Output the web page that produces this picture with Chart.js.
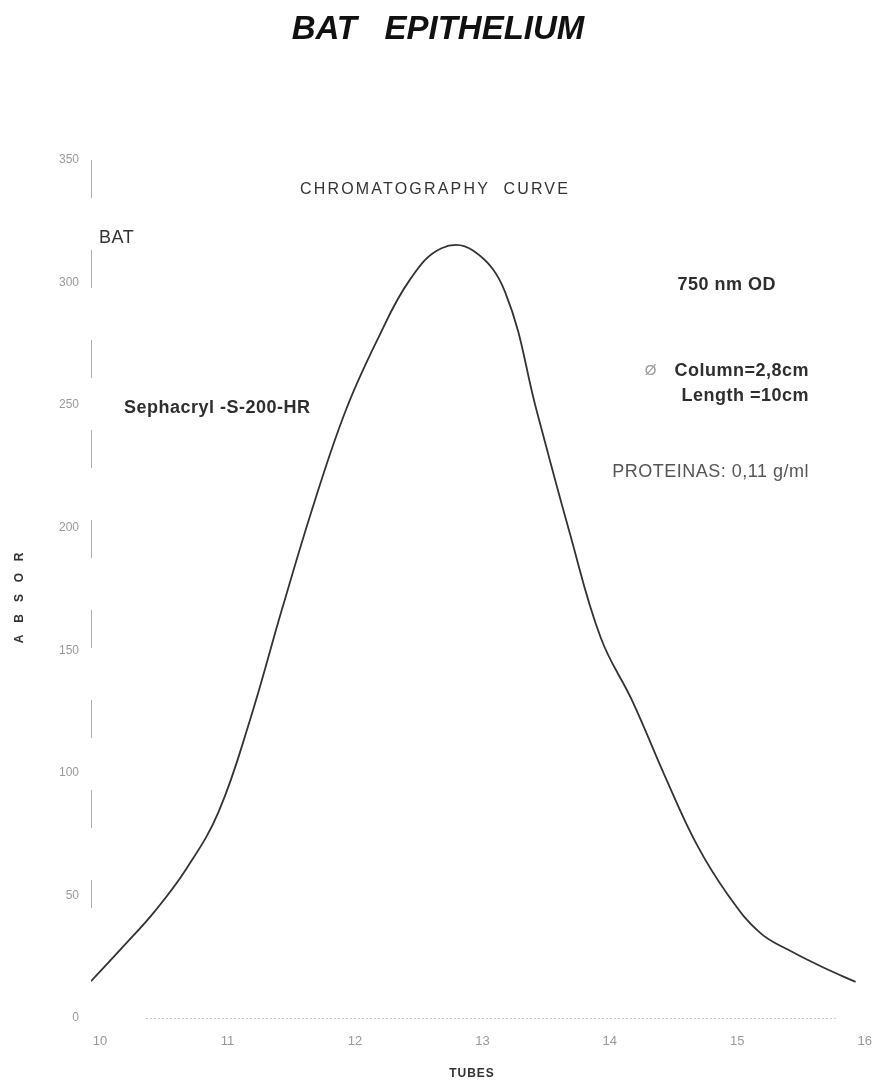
<!DOCTYPE html>
<html>
<head>
<meta charset="utf-8">
<script src="https://cdn.jsdelivr.net/npm/chart.js@4.4.0/dist/chart.umd.min.js"></script>
<style>
  body { margin: 0; background: #fff; }
  #wrap { width: 879px; height: 1085px; position: relative; }
</style>
</head>
<body>
<div id="wrap"><canvas id="myChart"></canvas></div>
<script>
// tubes (x) and absorbance (y)
var tubes = [10, 10.25, 10.5, 10.75, 11, 11.25, 11.5, 11.75, 12, 12.25, 12.5, 12.75, 13,
             13.25, 13.5, 13.75, 14, 14.25, 14.5, 14.75, 15, 15.25, 15.5, 15.75, 16];
var absor = [15, 29, 43.5, 61, 84, 122, 167, 210, 248, 277, 301, 314, 313,
             296, 247, 199, 155, 129, 99, 71, 50, 34.7, 27, 20.5, 14.7];
var xTicks = [10, 11, 12, 13, 14, 15, 16];
var yTicks = [0, 50, 100, 150, 200, 250, 300, 350];

var points = tubes.map(function (t, i) { return {x: t, y: absor[i]}; });

// broken axis lines, like the scanned original
const axisPlugin = {
  id: 'axes',
  beforeDatasetsDraw(chart) {
    const a = chart.chartArea;
    const c = chart.ctx;
    c.save();
    c.lineWidth = 1;
    c.strokeStyle = '#b0b0b0';
    c.setLineDash([38, 52]);
    c.beginPath();
    c.moveTo(a.left + 0.5, a.top);
    c.lineTo(a.left + 0.5, a.bottom - 110);
    c.stroke();
    c.strokeStyle = '#c8c8c8';
    c.setLineDash([2, 2]);
    c.beginPath();
    c.moveTo(a.left + 55, a.bottom + 0.5);
    c.lineTo(a.right - 20, a.bottom + 0.5);
    c.stroke();
    c.restore();
  }
};

// text labels drawn on the canvas
const textPlugin = {
  id: 'texts',
  afterDraw(chart) {
    const c = chart.ctx;
    c.save();
    c.textBaseline = 'middle';

    c.fillStyle = '#111';
    c.font = 'italic bold 33px Arial';
    c.textAlign = 'center';
    c.fillText('BAT   EPITHELIUM', 438, 30);

    c.fillStyle = '#333';
    c.font = '16px Arial';
    c.letterSpacing = '2.2px';
    c.fillText('CHROMATOGRAPHY  CURVE', 435, 190);

    c.textAlign = 'left';
    c.letterSpacing = '0.5px';
    c.font = '18px Arial';
    c.fillText('BAT', 99, 238);
    c.fillStyle = '#2e2e2e';
    c.font = 'bold 18px Arial';
    c.fillText('Sephacryl -S-200-HR', 124, 408);

    c.textAlign = 'right';
    c.fillText('750 nm OD', 776, 285);
    c.fillText('Column=2,8cm', 809, 371);
    c.fillText('Length =10cm', 809, 396);
    c.fillStyle = '#999';
    c.font = '15px Arial';
    c.fillText('Ø', 657, 371);
    c.fillStyle = '#555';
    c.font = '18px Arial';
    c.fillText('PROTEINAS: 0,11 g/ml', 809, 472);

    // axis titles
    c.letterSpacing = '1px';
    c.fillStyle = '#333';
    c.font = 'bold 12px Arial';
    c.textAlign = 'center';
    c.fillText('TUBES', 472, 1074);
    c.letterSpacing = '0px';
    c.translate(20, 598);
    c.rotate(-Math.PI / 2);
    var letters = ['A', 'B', 'S', 'O', 'R'];
    letters.forEach(function (l, i) {
      c.fillText(l, (i - 2) * 20.5, 0);
    });
    c.restore();
  }
};

const config = {
  type: 'line',
  data: {
    datasets: [{
      label: 'BAT',
      data: points,
      borderColor: '#333',
      borderWidth: 1.8,
      pointRadius: 0,
      fill: false,
      tension: 0.4
    }]
  },
  options: {
    responsive: false,
    animation: false,
    layout: { padding: { top: 160, right: 17, left: 0, bottom: 0 } },
    plugins: {
      legend: { display: false },
      tooltip: { enabled: false }
    },
    scales: {
      x: {
        type: 'linear',
        min: 10, max: 16,
        afterFit: function (s) { s.height = 67; },
        afterBuildTicks: function (s) { s.ticks = xTicks.map(function (v) { return {value: v}; }); },
        grid: { display: false, drawTicks: false },
        border: { display: false },
        ticks: { color: '#999', font: { family: 'Arial', size: 13 }, padding: 16, labelOffset: 9 }
      },
      y: {
        min: 0, max: 350,
        afterFit: function (s) { s.width = 91; },
        afterBuildTicks: function (s) { s.ticks = yTicks.map(function (v) { return {value: v}; }); },
        grid: { display: false, drawTicks: false },
        border: { display: false },
        ticks: { color: '#999', font: { family: 'Arial', size: 12 }, padding: 12 }
      }
    }
  },
  plugins: [axisPlugin, textPlugin]
};

var ctx = document.getElementById('myChart');
ctx.width = 879;
ctx.height = 1085;
var myChart = new Chart(ctx, config);
</script>
</body>
</html>
